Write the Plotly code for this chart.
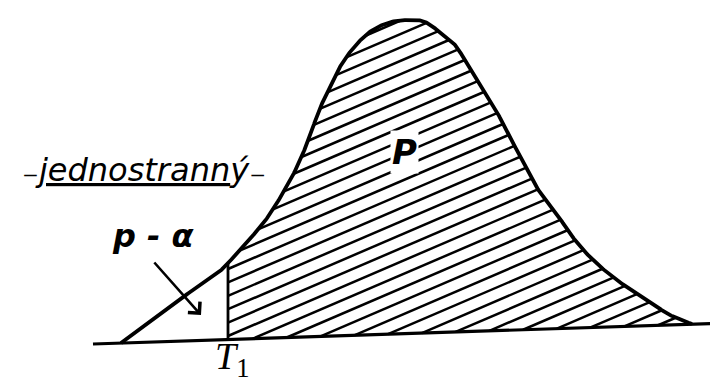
import numpy as np
import plotly.graph_objects as go

# Curve outline (x to the right, y downward, pixel frame)
curve_x = [113, 165, 207, 222, 240, 257, 272, 287, 300, 310, 318, 326, 335, 347, 363, 383, 403,
           417, 433, 447, 460, 473, 487, 497, 513, 527, 547, 563, 583, 610, 637, 660, 684]
curve_y = [335, 296, 267, 253, 233, 213, 190, 163, 133, 105, 87, 70, 54, 38, 23, 14, 12,
           14, 25, 37, 57, 77, 100, 120, 150, 177, 203, 227, 250, 273, 290, 306, 316]

# Baseline end points
base_x = [85, 718]
base_y = [336, 315]

# Critical value tau_1
tau_x = 220

# Hatching: slope, spacing, reference offset
hatch_slope = -0.43
hatch_step = 13.4
hatch_ref = 436


def catmull(px, py, n=24):
    P = np.column_stack([px, py]).astype(float)
    P = np.vstack([P[0], P, P[-1]])
    out = []
    for i in range(1, len(P) - 2):
        p0, p1, p2, p3 = P[i - 1], P[i], P[i + 1], P[i + 2]
        t = np.linspace(0, 1, n, endpoint=False)[:, None]
        seg = 0.5 * ((2 * p1) + (-p0 + p2) * t + (2 * p0 - 5 * p1 + 4 * p2 - p3) * t ** 2
                     + (-p0 + 3 * p1 - 3 * p2 + p3) * t ** 3)
        out.append(seg)
    out.append(P[-2][None, :])
    S = np.vstack(out)
    return S[:, 0], S[:, 1]


sx, sy = catmull(curve_x, curve_y)
order = np.argsort(sx)
sx, sy = sx[order], sy[order]


def base_at(x):
    return np.interp(x, base_x, base_y)


def curve_at(x):
    return np.interp(x, sx, sy)


# build hatch segments
hx, hy = [], []
xs = np.linspace(tau_x, curve_x[-1], 3000)
cy = curve_at(xs)
by = base_at(xs)
for k in range(-60, 60):
    c = hatch_ref + k * hatch_step
    ly = c + hatch_slope * xs
    inside = (ly >= cy) & (ly <= by)
    if not inside.any():
        continue
    idx = np.where(inside)[0]
    splits = np.where(np.diff(idx) > 1)[0]
    starts = np.concatenate([[idx[0]], idx[splits + 1]])
    ends = np.concatenate([idx[splits], [idx[-1]]])
    for s, e in zip(starts, ends):
        if e - s < 2:
            continue
        hx += [xs[s], xs[e], None]
        hy += [ly[s], ly[e], None]

fig = go.Figure()
fig.add_trace(go.Scatter(x=hx, y=hy, mode="lines", line=dict(color="black", width=2.5),
                         hoverinfo="skip", showlegend=False))
# tau vertical line
fig.add_trace(go.Scatter(x=[tau_x, tau_x], y=[base_at(tau_x), curve_at(tau_x)], mode="lines",
                         line=dict(color="black", width=2.8), showlegend=False))
# baseline
fig.add_trace(go.Scatter(x=base_x, y=base_y, mode="lines", line=dict(color="black", width=3.2),
                         showlegend=False))
# curve
fig.add_trace(go.Scatter(x=sx, y=sy, mode="lines", line=dict(color="black", width=3.8),
                         showlegend=False))

FONT = "DejaVu Sans"
fig.add_annotation(x=136, y=162, xref="x", yref="y", showarrow=False,
                   text="<i>₋<u>jednostrann</u>ý₋</i>",
                   font=dict(family=FONT, size=32, color="black"))
fig.add_annotation(x=396, y=144, xref="x", yref="y", showarrow=False,
                   text="<b><i>P</i></b>", bgcolor="white", borderpad=1,
                   font=dict(family=FONT, size=34, color="black"))
fig.add_annotation(x=145, y=228, xref="x", yref="y", showarrow=False,
                   text="<b><i>p - α</i></b>",
                   font=dict(family=FONT, size=32, color="black"))
fig.add_annotation(x=193, y=307, ax=145, ay=253, xref="x", yref="y", axref="x", ayref="y",
                   showarrow=True, arrowhead=4, arrowsize=1.2, arrowwidth=2.6,
                   arrowcolor="black", text="")
fig.add_annotation(x=224, y=351, xref="x", yref="y", showarrow=False,
                   text="<i>T</i><sub>1</sub>",
                   font=dict(family="Liberation Serif", size=38, color="black"))

fig.update_layout(width=718, height=385, margin=dict(l=0, r=0, t=0, b=0),
                  plot_bgcolor="white", paper_bgcolor="white",
                  xaxis=dict(range=[0, 718], visible=False, fixedrange=True),
                  yaxis=dict(range=[385, 0], visible=False, fixedrange=True),
                  showlegend=False)
fig.write_html("out.html")
